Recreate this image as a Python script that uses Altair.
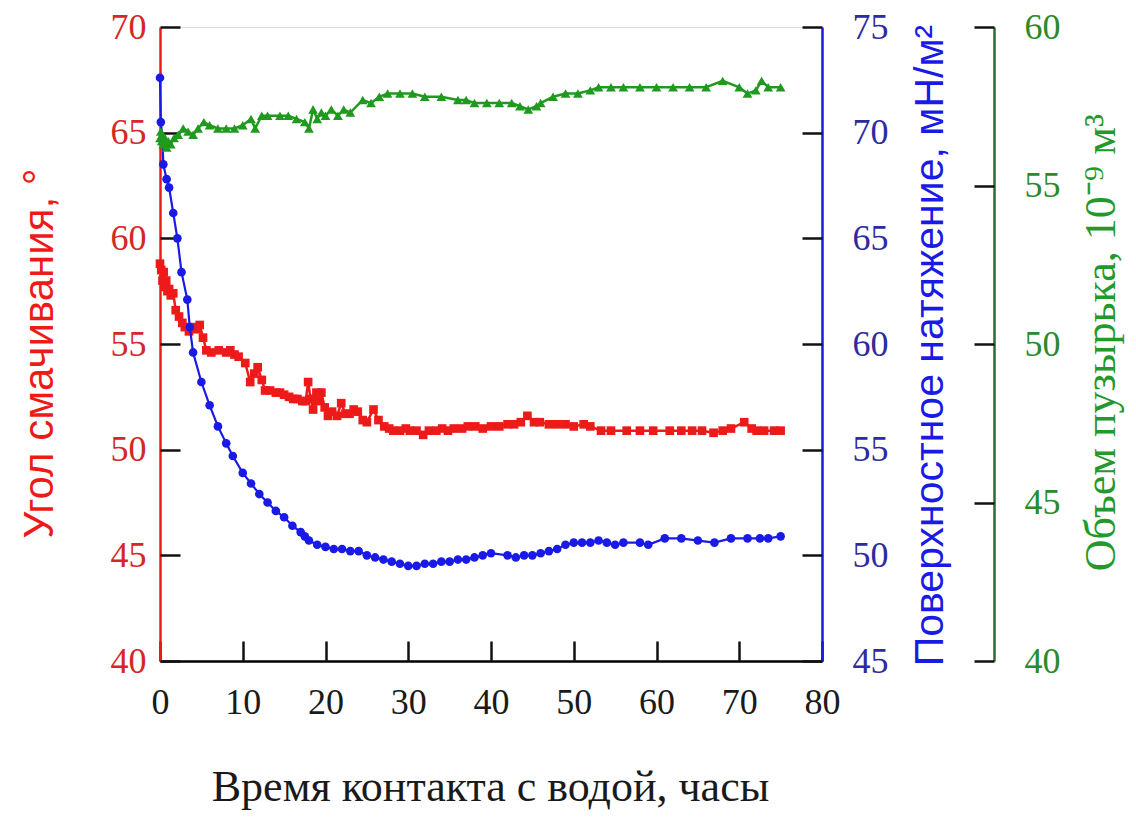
import altair as alt
import pandas as pd

# ---- data ----
red_t = [0.0, 0.15, 0.3, 0.45, 0.6, 0.75, 0.9, 1.1, 1.3, 1.6, 1.9, 2.3, 2.7, 3.0, 3.5, 4.0, 4.5, 4.8,
         5.2, 5.6, 6.2, 7.1, 8.0, 8.5, 9.0, 9.5, 10.3, 10.9, 11.4, 11.8, 12.3, 12.7, 13.3, 14.0, 14.5,
         15.0, 15.6, 16.1, 16.6, 17.2, 17.6, 17.9, 18.2, 18.5, 18.9, 19.2, 19.5, 19.9, 20.3, 20.8, 21.4,
         21.9, 22.4, 22.9, 23.4, 23.9, 24.5, 25.0, 25.8, 26.4, 27.1, 27.7, 28.2, 29.0, 29.7, 30.2, 31.0,
         31.8, 32.5, 33.4, 34.1, 34.8, 35.5, 36.5, 37.2, 38.1, 39.0, 40.0, 41.0, 42.0, 42.8, 43.6, 44.4,
         45.2, 45.9, 47.0, 48.0, 49.0, 50.0, 51.2, 52.0, 53.3, 54.5, 56.4, 58.0, 59.6, 61.6, 63.0, 64.3,
         65.5, 66.9, 68.0, 69.0, 70.6, 71.5, 72.1, 73.0, 74.2, 75.0]
red_v = [58.8, 58.5, 58.0, 58.4, 57.7, 58.0, 57.5, 57.6, 57.3, 57.4, 56.6, 56.3, 56.0, 55.8, 55.6, 55.8, 55.7, 55.9,
         55.3, 54.7, 54.6, 54.7, 54.6, 54.7, 54.5, 54.4, 54.1, 53.2, 53.6, 53.9, 53.3, 52.8, 52.8, 52.7, 52.7,
         52.6, 52.5, 52.4, 52.4, 52.3, 52.3, 53.2, 52.4, 51.9, 52.7, 52.3, 52.7, 52.0, 51.6, 51.8, 51.6,
         52.2, 51.7, 51.7, 51.9, 51.8, 51.4, 51.3, 51.9, 51.4, 51.1, 51.0, 50.9, 50.9, 51.0, 50.9, 50.9,
         50.7, 50.9, 50.9, 51.0, 50.9, 51.0, 51.0, 51.1, 51.1, 51.0, 51.1, 51.1, 51.2, 51.2, 51.3, 51.6,
         51.3, 51.3, 51.2, 51.2, 51.2, 51.1, 51.2, 51.1, 50.9, 50.9, 50.9, 50.9, 50.9, 50.9, 50.9, 50.9,
         50.9, 50.8, 50.9, 51.0, 51.3, 51.0, 50.9, 50.9, 50.9, 50.9]

blue_t = [0.0, 0.1, 0.3, 0.4, 0.8, 1.1, 1.6, 2.1, 2.6, 3.3, 3.6, 4.0, 5.0, 6.0, 7.0, 8.0, 8.8, 10.0,
          11.0, 12.0, 13.0, 14.0, 15.0, 16.0, 17.0, 17.5, 18.0, 19.0, 20.0, 21.0, 22.0, 23.0, 24.0, 25.0,
          26.0, 27.0, 28.0, 29.0, 30.0, 31.0, 32.0, 33.0, 34.0, 35.0, 36.0, 37.0, 38.0, 39.0, 40.0, 42.0,
          43.0, 44.0, 45.0, 46.0, 47.0, 48.0, 49.0, 50.0, 51.0, 52.0, 53.0, 54.0, 55.0, 56.0, 58.0, 59.0,
          61.0, 63.0, 65.0, 67.0, 69.0, 71.0, 72.5, 73.5, 75.0]
blue_v = [72.6, 70.5, 69.7, 68.5, 67.8, 67.4, 66.2, 65.0, 63.4, 62.1, 60.8, 59.6, 58.2, 57.1, 56.1, 55.3, 54.7, 53.9,
          53.4, 52.9, 52.5, 52.1, 51.8, 51.4, 51.1, 50.9, 50.7, 50.5, 50.4, 50.3, 50.3, 50.2, 50.2, 50.0,
          49.9, 49.8, 49.7, 49.6, 49.5, 49.5, 49.6, 49.6, 49.7, 49.7, 49.8, 49.8, 49.9, 50.0, 50.1, 50.0,
          49.9, 50.0, 50.0, 50.1, 50.2, 50.3, 50.5, 50.6, 50.6, 50.6, 50.7, 50.6, 50.5, 50.6, 50.6, 50.5,
          50.8, 50.8, 50.7, 50.6, 50.8, 50.8, 50.8, 50.8, 50.9]

green_t = [0.0, 0.1, 0.2, 0.3, 0.4, 0.6, 0.8, 1.0, 1.3, 1.7, 2.2, 2.8, 3.4, 4.0, 4.6, 5.3, 6.0, 7.0,
           8.0, 9.0, 10.0, 11.0, 11.5, 12.3, 13.0, 14.5, 15.5, 16.5, 17.5, 18.0, 18.5, 19.0, 19.5, 20.0,
           20.7, 21.5, 22.2, 23.0, 24.5, 25.5, 26.5, 27.5, 29.0, 30.5, 32.0, 34.0, 36.0, 37.0, 38.0, 39.5,
           41.0, 42.5, 43.5, 44.5, 45.5, 46.0, 47.5, 49.0, 50.5, 52.0, 53.0, 54.5, 56.0, 58.0, 60.0, 62.0,
           64.0, 66.0, 68.0, 70.0, 71.0, 72.0, 72.7, 73.5, 75.0]
green_v = [56.5, 56.7, 56.4, 56.6, 56.3, 56.5, 56.2, 56.4, 56.3, 56.5, 56.6, 56.8, 56.7, 56.6, 56.8, 57.0, 56.9, 56.8,
           56.8, 56.8, 56.9, 57.1, 56.8, 57.2, 57.2, 57.2, 57.2, 57.1, 57.0, 56.8, 57.4, 57.1, 57.3, 57.2,
           57.4, 57.2, 57.4, 57.3, 57.7, 57.6, 57.8, 57.9, 57.9, 57.9, 57.8, 57.8, 57.7, 57.7, 57.6, 57.6,
           57.6, 57.6, 57.5, 57.4, 57.5, 57.6, 57.8, 57.9, 57.9, 58.0, 58.1, 58.1, 58.1, 58.1, 58.1, 58.1,
           58.1, 58.1, 58.3, 58.1, 57.9, 58.0, 58.3, 58.1, 58.1]

x_ticks = [0, 10, 20, 30, 40, 50, 60, 70, 80]
red_ticks = [40, 45, 50, 55, 60, 65, 70]
blue_ticks = [45, 50, 55, 60, 65, 70, 75]
green_ticks = [40, 45, 50, 55, 60]

red_df = pd.DataFrame({"t": red_t, "v": red_v})
blue_df = pd.DataFrame({"t": blue_t, "v": blue_v})
green_df = pd.DataFrame({"t": green_t, "v": green_v})

# ---- styling ----
W, H = 662, 634
GREEN_OFF = 172
RED, BLUE, GREEN = "#ee1a1a", "#1a1ae6", "#1f9a1f"
SERIF = "Liberation Serif"
SANS = "Liberation Sans"
LBL = 36

def xscale():
    return alt.Scale(domain=[0, 80], nice=False, zero=False)

def yscale(d):
    return alt.Scale(domain=d, nice=False, zero=False)

def tick_axis(orient, offset, values):
    return alt.Axis(orient=orient, offset=offset, values=values, labels=False, domain=False,
                    ticks=True, tickSize=20, tickWidth=2.5, tickColor="#111111", grid=False, title="")

# red series (with bottom x-axis and left red axis)
red = alt.Chart(red_df).mark_line(
    color=RED, strokeWidth=2.5,
    point=alt.OverlayMarkDef(shape="square", filled=True, size=75, color=RED, opacity=1)
).encode(
    x=alt.X("t:Q", scale=xscale(), axis=alt.Axis(
        orient="bottom", values=x_ticks, ticks=False, tickSize=0, grid=False,
        labelFont=SERIF, labelFontSize=LBL, labelColor="#1a1a1a", labelPadding=24, labelFlush=False,
        domainColor="black", domainWidth=2.5,
        title="Время контакта с водой, часы", titleFont=SERIF, titleFontSize=44, titleFontWeight="normal",
        titleColor="#1a1a1a", titleX=330, titleY=126, titleAlign="center", titleBaseline="middle")),
    y=alt.Y("v:Q", scale=yscale([40, 70]), axis=alt.Axis(
        orient="left", values=red_ticks, ticks=False, tickSize=0, grid=False,
        labelFont=SERIF, labelFontSize=LBL, labelColor="#d42828", labelPadding=14, labelFlush=False,
        domainColor=RED, domainWidth=2.5,
        title="Угол смачивания, °", titleFont=SANS, titleFontSize=42, titleFontWeight="normal",
        titleColor=RED, titleX=-121, titleY=326, titleAlign="center", titleBaseline="middle", titleAngle=270)),
)

red_ticks_layer = alt.Chart(red_df).mark_point(opacity=0).encode(
    x=alt.X("t:Q", scale=xscale(), axis=tick_axis("top", -H, x_ticks)),
    y=alt.Y("v:Q", scale=yscale([40, 70]), axis=tick_axis("right", -W, red_ticks)),
)

blue = alt.Chart(blue_df).mark_line(
    color=BLUE, strokeWidth=2.2,
    point=alt.OverlayMarkDef(shape="circle", filled=True, size=75, color=BLUE, opacity=1)
).encode(
    x=alt.X("t:Q", scale=xscale(), axis=None),
    y=alt.Y("v:Q", scale=yscale([45, 75]), axis=alt.Axis(
        orient="right", values=blue_ticks, ticks=False, tickSize=0, grid=False,
        labelFont=SERIF, labelFontSize=LBL, labelColor="#2c2ca0", labelPadding=30, labelFlush=False,
        domainColor=BLUE, domainWidth=2.5,
        title="Поверхностное натяжение, мН/м²", titleFont=SANS, titleFontSize=41, titleFontWeight="normal",
        titleColor=BLUE, titleX=108, titleY=318, titleAlign="center", titleBaseline="middle", titleAngle=270)),
)

blue_ticks_layer = alt.Chart(blue_df).mark_point(opacity=0).encode(
    x=alt.X("t:Q", scale=xscale(), axis=None),
    y=alt.Y("v:Q", scale=yscale([45, 75]), axis=tick_axis("left", -W, blue_ticks)),
)

green = alt.Chart(green_df).mark_line(
    color=GREEN, strokeWidth=2.5,
    point=alt.OverlayMarkDef(shape="triangle-up", filled=True, size=95, color=GREEN, opacity=1)
).encode(
    x=alt.X("t:Q", scale=xscale(), axis=None),
    y=alt.Y("v:Q", scale=yscale([40, 60]), axis=alt.Axis(
        orient="right", offset=GREEN_OFF, values=green_ticks, ticks=False, tickSize=0, grid=False,
        labelFont=SERIF, labelFontSize=LBL, labelColor="#2b8a2b", labelPadding=30, labelFlush=False,
        domainColor="#2f6a2f", domainWidth=2.5,
        title="Объем пузырька, 10⁻⁹ м³", titleFont=SERIF, titleFontSize=44, titleFontWeight="normal",
        titleColor="#22992a", titleX=107, titleY=315, titleAlign="center", titleBaseline="middle", titleAngle=270)),
)

green_ticks_layer = alt.Chart(green_df).mark_point(opacity=0).encode(
    x=alt.X("t:Q", scale=xscale(), axis=None),
    y=alt.Y("v:Q", scale=yscale([40, 60]), axis=tick_axis("left", -(W + GREEN_OFF), green_ticks)),
)

chart = alt.layer(
    red, red_ticks_layer, blue, blue_ticks_layer, green, green_ticks_layer
).resolve_scale(
    x="independent", y="independent"
).properties(
    width=W, height=H,
    padding={"left": 152, "top": 19, "right": 306, "bottom": 156},
    autosize="none",
).configure_view(stroke=None).configure(background="white")

chart.save("out.html", embed_options={"renderer": "svg", "actions": False})
